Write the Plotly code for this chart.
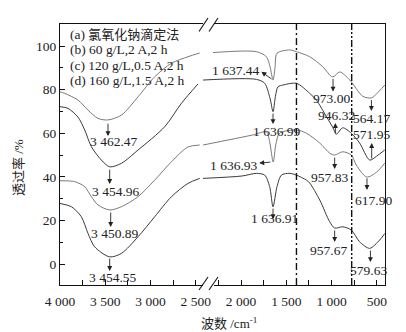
import plotly.graph_objects as go

# ---------------- data (wavenumber / cm-1, transmittance / %) ----------------
a_left_wn = [4000, 3948, 3801, 3691, 3580, 3470, 3322, 3138, 2954, 2769, 2586, 2457]
a_left_T = [79.0, 78.3, 75.2, 70.6, 66.8, 66.1, 68.3, 76.7, 85.9, 92.1, 95.1, 96.8]
a_right_wn = [2310, 1830, 1720, 1680, 1647, 1625, 1603, 1463, 1388, 1242, 1098, 988, 910, 801, 657, 560, 470, 413]
a_right_T = [97.0, 97.4, 95.1, 90.5, 84.4, 90.0, 96.7, 98.2, 97.4, 95.1, 90.5, 85.8, 88.1, 84.5, 77.0, 76.2, 79.5, 82.1]

b_left_wn = [4000, 3912, 3801, 3727, 3653, 3543, 3451, 3322, 3138, 2843, 2659, 2476]
b_left_T = [72.2, 71.4, 67.4, 61.5, 53.8, 47.7, 44.6, 46.2, 52.3, 63.0, 73.7, 82.6]
b_right_wn = [2420, 1830, 1739, 1680, 1647, 1620, 1592, 1537, 1388, 1242, 1168, 1057, 988, 947, 877, 782, 690, 579, 502, 413]
b_right_T = [84.4, 84.7, 82.9, 76.0, 69.9, 77.0, 81.3, 82.1, 82.9, 78.3, 75.2, 67.6, 62.8, 59.6, 62.5, 60.0, 55.5, 47.7, 49.5, 52.3]

c_left_wn = [4000, 3838, 3727, 3653, 3580, 3451, 3322, 3138, 2954, 2769, 2586, 2457]
c_left_T = [38.2, 37.8, 35.5, 30.9, 27.1, 24.8, 26.3, 30.9, 38.5, 46.9, 53.7, 54.6]
c_right_wn = [2420, 1871, 1720, 1684, 1645, 1615, 1574, 1388, 1278, 1131, 1021, 966, 877, 782, 727, 612, 502, 413]
c_right_T = [54.6, 59.2, 60.6, 56.0, 46.8, 55.0, 60.0, 61.5, 60.0, 55.5, 50.9, 50.0, 51.5, 50.0, 45.4, 39.9, 42.2, 46.3]

d_left_wn = [4000, 3874, 3764, 3691, 3617, 3451, 3322, 3138, 2954, 2769, 2586, 2457]
d_left_T = [27.8, 26.3, 21.7, 14.1, 7.9, 3.3, 4.9, 12.5, 21.7, 30.9, 37.0, 39.3]
d_right_wn = [2420, 1988, 1830, 1739, 1684, 1647, 1603, 1554, 1463, 1388, 1278, 1242, 1131, 1021, 966, 877, 782, 690, 579, 469, 413]
d_right_T = [39.3, 40.4, 41.6, 40.8, 35.5, 26.3, 35.5, 40.8, 41.6, 40.8, 38.5, 37.2, 29.4, 19.4, 16.5, 17.1, 15.6, 10.2, 7.2, 11.0, 14.0]

legend_labels = ["(a) <span style='font-size:13px'>氯氧化钠滴定法</span>",
                 "(b) 60 g/L,2 A,2 h",
                 "(c) 120 g/L,0.5 A,2 h",
                 "(d) 160 g/L,1.5 A,2 h"]

# peak labels: text, label position
peak_text = ["3 462.47", "3 454.96", "3 450.89", "3 454.55",
             "1 637.44", "1 636.99", "973.00", "946.32", "564.17", "571.95",
             "1 636.93", "957.83", "617.90", "1 636.91", "957.67", "579.63"]
peak_label_wn = [3407, 3377, 3387, 3414, 2051, 1606, 1002, 947, 560, 557, 2081, 1021, 535, 1628, 1039, 597]
peak_label_T = [56.1, 33.5, 14.1, -6.3, 89.0, 60.7, 76.0, 68.3, 66.8, 59.2, 45.4, 39.6, 29.0, 21.0, 6.4, -3.1]
# arrows: tail (at the band) -> head
arrow_tail_wn = [3470, 3451, 3440, 3451, 1647, 1647, 984, 958, 560, 557, 1661, 966, 609, 1647, 966, 571]
arrow_tail_T = [65.1, 44.0, 24.3, 3.2, 84.4, 69.7, 85.6, 59.2, 75.9, 47.7, 46.8, 49.5, 40.0, 26.1, 16.1, 6.9]
arrow_head_wn = [3470, 3451, 3440, 3451, 1775, 1647, 984, 958, 560, 557, 1799, 966, 609, 1647, 966, 571]
arrow_head_T = [58.7, 36.7, 17.0, -3.2, 88.2, 64.2, 79.1, 64.7, 70.2, 55.5, 46.3, 43.6, 34.0, 20.6, 10.1, 0.9]

x_tick_vals = [4000, 3500, 3000, 2500, 2000, 1500, 1000, 500]
x_tick_text = ["4 000", "3 500", "3 000", "2 500", "2 000", "1 500", "1 000", "500"]
x_minor_vals = [3750, 3250, 2750, 2250, 1750, 1250, 750]
y_tick_vals = [0, 20, 40, 60, 80, 100]
y_minor_vals = [10, 30, 50, 70, 90]
guide_wn = [1388, 778]

# ---------------- figure ----------------
W, H = 406, 332
L, R, T, B = 60, 21, 24, 47
pw, ph = W - L - R, H - T - B


def px(xp, yp):
    return (xp - L) / pw, (H - B - yp) / ph


FONT = "Liberation Serif, Noto Sans CJK SC, serif"
fig = go.Figure()

curves = [(a_left_wn, a_left_T, a_right_wn, a_right_T, "#7a7a7a"),
          (b_left_wn, b_left_T, b_right_wn, b_right_T, "#3a3a3a"),
          (c_left_wn, c_left_T, c_right_wn, c_right_T, "#7a7a7a"),
          (d_left_wn, d_left_T, d_right_wn, d_right_T, "#3a3a3a")]
for lw, lt, rw, rt, col in curves:
    fig.add_trace(go.Scatter(x=lw + [None] + rw, y=lt + [None] + rt, mode="lines",
                             line=dict(color=col, width=1, shape="spline", smoothing=0.8),
                             showlegend=False, hoverinfo="skip"))

annotations = []
for t, xw, yt in zip(peak_text, peak_label_wn, peak_label_T):
    annotations.append(dict(x=xw, y=yt, xref="x", yref="y", text=t, showarrow=False,
                            xanchor="center", yanchor="middle",
                            font=dict(family=FONT, size=13.5, color="#222")))
for tw, tt, hw, ht in zip(arrow_tail_wn, arrow_tail_T, arrow_head_wn, arrow_head_T):
    annotations.append(dict(x=hw, y=ht, ax=tw, ay=tt, xref="x", yref="y", axref="x", ayref="y",
                            text="", showarrow=True, arrowhead=2, arrowsize=1.1, arrowwidth=0.9,
                            arrowcolor="#222", standoff=0, startstandoff=0))
leg_y = [34, 50, 65.5, 81]
for lab, yy in zip(legend_labels, leg_y):
    xp, yp = px(68, yy)
    annotations.append(dict(x=xp, y=yp, xref="paper", yref="paper", text=lab, showarrow=False,
                            xanchor="left", yanchor="middle",
                            font=dict(family=FONT, size=13.5, color="#222")))
xp, yp = px(18, 168)
annotations.append(dict(x=xp, y=yp, xref="paper", yref="paper", text="透过率 /%", textangle=-90,
                        xanchor="center", yanchor="middle",
                        showarrow=False, font=dict(family=FONT, size=13, color="#222")))
xp, yp = px(229, 322.5)
annotations.append(dict(x=xp, y=yp, xref="paper", yref="paper", text="波数 /cm<sup>-1</sup>",
                        xanchor="center", yanchor="middle",
                        showarrow=False, font=dict(family=FONT, size=13, color="#222")))

shapes = []
dash_styles = ["7px,3px,2px,3px", "7px,2px,2px,2px,2px,2px"]
for g, ds in zip(guide_wn, dash_styles):
    shapes.append(dict(type="line", xref="x", yref="paper", x0=g, x1=g, y0=0, y1=1,
                       line=dict(color="#111", width=1.4, dash=ds), layer="above"))
# axis break marks
for yb, (y0s, y1s) in [(24, (31.5, 18)), (285, (290, 277))]:
    x0, y0 = px(203, yb - 2.5)
    x1, y1 = px(214, yb + 2.5)
    shapes.append(dict(type="rect", xref="paper", yref="paper", x0=x0, x1=x1, y0=y0, y1=y1,
                       fillcolor="white", line=dict(width=0), layer="above"))
    for xs in (199, 209):
        p0 = px(xs, y0s)
        p1 = px(xs + 9, y1s)
        shapes.append(dict(type="line", xref="paper", yref="paper", x0=p0[0], y0=p0[1],
                           x1=p1[0], y1=p1[1], line=dict(color="#111", width=1.1), layer="above"))

fig.update_layout(
    width=W, height=H, margin=dict(l=L, r=R, t=T, b=B),
    paper_bgcolor="white", plot_bgcolor="white",
    font=dict(family=FONT, size=13.5, color="#222"),
    annotations=annotations, shapes=shapes, showlegend=False,
    xaxis=dict(range=[4000, 410], tickvals=x_tick_vals, ticktext=x_tick_text,
               ticks="inside", ticklen=5, tickwidth=1, tickcolor="#111",
               minor=dict(tickvals=x_minor_vals, ticks="inside", ticklen=5, tickwidth=1, tickcolor="#111"),
               showline=True, linecolor="#111", linewidth=1.3, mirror=True,
               showgrid=False, zeroline=False, ticklabelstandoff=4,
               tickfont=dict(family=FONT, size=13.5, color="#222")),
    yaxis=dict(range=[-9.6, 110.1], tickvals=y_tick_vals,
               ticks="inside", ticklen=5, tickwidth=1, tickcolor="#111",
               minor=dict(tickvals=y_minor_vals, ticks="inside", ticklen=2.5, tickwidth=1, tickcolor="#111"),
               showline=True, linecolor="#111", linewidth=1.3, mirror=True,
               showgrid=False, zeroline=False,
               tickfont=dict(family=FONT, size=13.5, color="#222")),
)

fig.write_html("out.html", post_script="document.body.style.margin='0';",
               config={"displayModeBar": False})
